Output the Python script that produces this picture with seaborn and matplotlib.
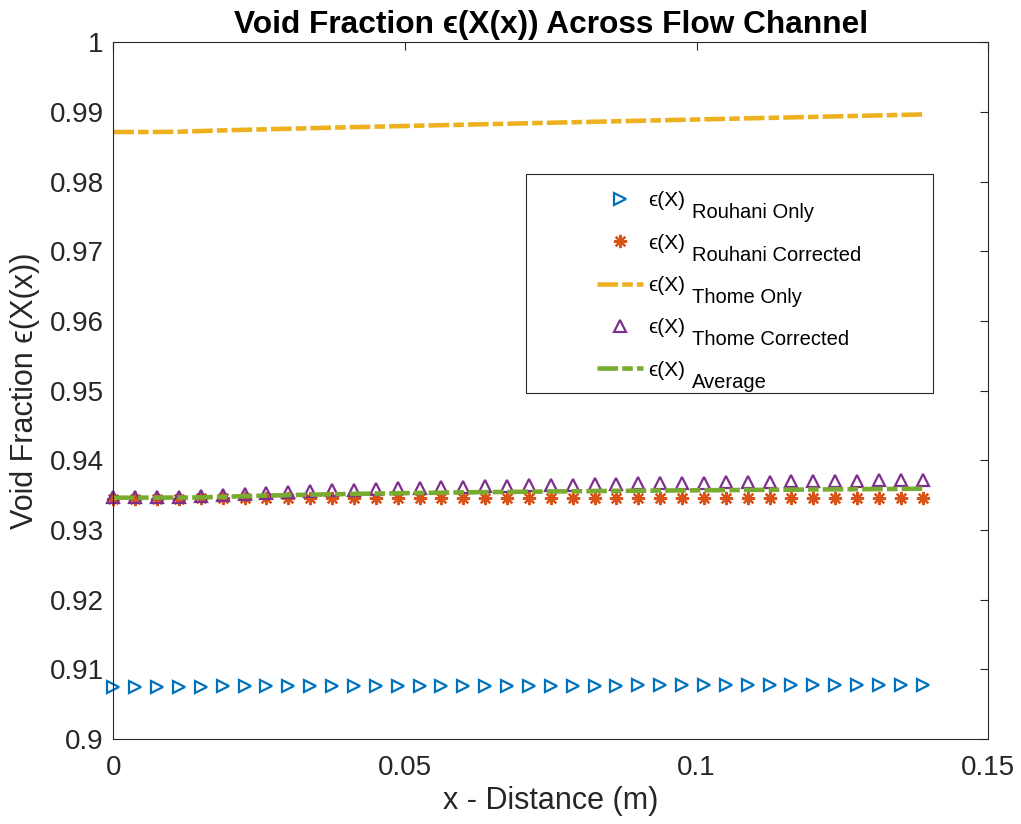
import numpy as np
import matplotlib
matplotlib.use("Agg")
import matplotlib.pyplot as plt
import matplotlib.transforms as mtransforms
from matplotlib.patches import Rectangle
from matplotlib.ticker import FuncFormatter
import seaborn as sns

# ----------------------------
# data (38 stations along the channel)
x_dist = np.linspace(0, 0.13875, 38)

eps_rouhani_only = [0.90750, 0.90751, 0.90752, 0.90752, 0.90753, 0.90754, 0.90755, 0.90755, 0.90756, 0.90757,
                    0.90758, 0.90758, 0.90759, 0.90760, 0.90761, 0.90761, 0.90762, 0.90763, 0.90764, 0.90764,
                    0.90765, 0.90766, 0.90767, 0.90767, 0.90768, 0.90769, 0.90770, 0.90770, 0.90771, 0.90772,
                    0.90773, 0.90773, 0.90774, 0.90775, 0.90775, 0.90776, 0.90776, 0.90777]

eps_rouhani_corr = [0.93450, 0.93450, 0.93451, 0.93451, 0.93452, 0.93452, 0.93453, 0.93453, 0.93454, 0.93454,
                    0.93455, 0.93455, 0.93455, 0.93456, 0.93456, 0.93456, 0.93457, 0.93457, 0.93457, 0.93458,
                    0.93458, 0.93458, 0.93459, 0.93459, 0.93459, 0.93460, 0.93460, 0.93460, 0.93460, 0.93461,
                    0.93461, 0.93461, 0.93461, 0.93462, 0.93462, 0.93462, 0.93462, 0.93463]

eps_thome_only = [0.98712, 0.98712, 0.98713, 0.98716, 0.98726, 0.98735, 0.98743, 0.98751, 0.98759, 0.98767,
                  0.98775, 0.98782, 0.98789, 0.98796, 0.98803, 0.98810, 0.98817, 0.98824, 0.98831, 0.98838,
                  0.98845, 0.98852, 0.98859, 0.98866, 0.98873, 0.98880, 0.98887, 0.98894, 0.98901, 0.98908,
                  0.98915, 0.98922, 0.98929, 0.98936, 0.98943, 0.98950, 0.98957, 0.98964]

eps_thome_corr = [0.93475, 0.93477, 0.93478, 0.93479, 0.93482, 0.93500, 0.93518, 0.93533, 0.93546, 0.93558,
                  0.93569, 0.93580, 0.93590, 0.93599, 0.93607, 0.93615, 0.93622, 0.93629, 0.93635, 0.93641,
                  0.93647, 0.93652, 0.93657, 0.93662, 0.93667, 0.93671, 0.93675, 0.93680, 0.93684, 0.93688,
                  0.93692, 0.93696, 0.93700, 0.93704, 0.93708, 0.93712, 0.93716, 0.93722]

eps_average = [0.934625, 0.934635, 0.934645, 0.93465, 0.93467, 0.93476, 0.934855, 0.93493, 0.93500, 0.93506,
               0.93512, 0.935175, 0.935225, 0.935275, 0.935315, 0.935355, 0.935395, 0.93543, 0.93546, 0.935495,
               0.935525, 0.93555, 0.93558, 0.935605, 0.93563, 0.935655, 0.935675, 0.93570, 0.93572, 0.935745,
               0.935765, 0.935785, 0.935805, 0.93583, 0.93585, 0.93587, 0.93589, 0.935925]

legend_main = "\u03f5(X)"
legend_subs = ['Rouhani Only', 'Rouhani Corrected', 'Thome Only', 'Thome Corrected', 'Average']
x_ticks = [0, 0.05, 0.1, 0.15]
y_ticks = [0.9, 0.91, 0.92, 0.93, 0.94, 0.95, 0.96, 0.97, 0.98, 0.99, 1.0]

# matlab default colour order
c_blue, c_orange, c_yellow, c_purple, c_green = '#0072BD', '#D95319', '#EDB120', '#7E2F8E', '#77AC30'
ink = '#262626'

sns.set_style("white")
plt.rcParams['font.family'] = ['Liberation Sans', 'DejaVu Sans']

fig = plt.figure(figsize=(10.21, 8.24), dpi=100)
ax = fig.add_axes([0.111, 0.1032, 0.857, 0.8455])

dashdot = (0, (4.5, 0.9, 2.3, 0.9))
common = dict(ax=ax, estimator=None, sort=False)
mk = dict(linestyle='none', markerfacecolor='none', markeredgewidth=1.6, clip_on=False)

sns.lineplot(x=x_dist, y=eps_rouhani_only, marker='>', markersize=8.5,
             markeredgecolor=c_blue, color=c_blue, **mk, **common)
sns.lineplot(x=x_dist, y=eps_rouhani_corr, marker=(8, 2, 0), markersize=9.5,
             markeredgecolor=c_orange, color=c_orange, **mk, **common)
sns.lineplot(x=x_dist, y=eps_thome_only, linestyle=dashdot, linewidth=3.3, color=c_yellow, **common)
sns.lineplot(x=x_dist, y=eps_thome_corr, marker='^', markersize=9,
             markeredgecolor=c_purple, color=c_purple, **mk, **common)
sns.lineplot(x=x_dist, y=eps_average, linestyle=dashdot, linewidth=3.3, color=c_green, **common)

handles = ax.get_lines()[-5:]

# legend frame drawn separately so the entries can sit off-centre like in matlab
ax.add_patch(Rectangle((0.4717, 0.4964), 0.465, 0.3142, transform=ax.transAxes,
                       facecolor='white', edgecolor=ink, linewidth=0.8, zorder=4))
leg = ax.legend(handles, [legend_main] * 5, loc='upper left', bbox_to_anchor=(0.5528, 0.7862),
                frameon=False, fontsize=15, handlelength=2.2, handletextpad=0.25,
                borderpad=0, borderaxespad=0, labelspacing=1.12)
leg.set_zorder(5)
for t in leg.get_texts():
    t.set_color('black')

ax.set_xlim(0, 0.15)
ax.set_ylim(0.9, 1.0)
ax.set_xticks(x_ticks)
ax.set_yticks(y_ticks)
fmt = FuncFormatter(lambda v, p: f"{round(v, 4):g}")
ax.xaxis.set_major_formatter(fmt)
ax.yaxis.set_major_formatter(fmt)
ax.tick_params(direction='in', length=6, width=0.8, top=True, right=True,
               labelsize=20, colors=ink)
ax.tick_params(axis='x', pad=11.5)
ax.tick_params(axis='y', pad=7)
for sp in ax.spines.values():
    sp.set_color(ink)
    sp.set_linewidth(0.8)

ax.set_xlabel('x - Distance (m)', fontsize=22, color=ink, labelpad=4)
ax.set_ylabel('Void Fraction \u03f5(X(x))', fontsize=22, color=ink, labelpad=7)
ax.set_title('Void Fraction \u03f5(X(x)) Across Flow Channel', fontsize=22.8, fontweight='bold',
             color='black', pad=7)

# tex-style subscripts next to each legend entry (matlab keeps them full size)
fig.canvas.draw()
renderer = fig.canvas.get_renderer()
for t, sub in zip(leg.get_texts(), legend_subs):
    bb = t.get_window_extent(renderer)
    fig.text(bb.x1 + 7, bb.y1 - 12, sub, transform=mtransforms.IdentityTransform(),
             fontsize=14.5, color='black', ha='left', va='top', zorder=6)

fig.savefig('out.png', dpi=100)
